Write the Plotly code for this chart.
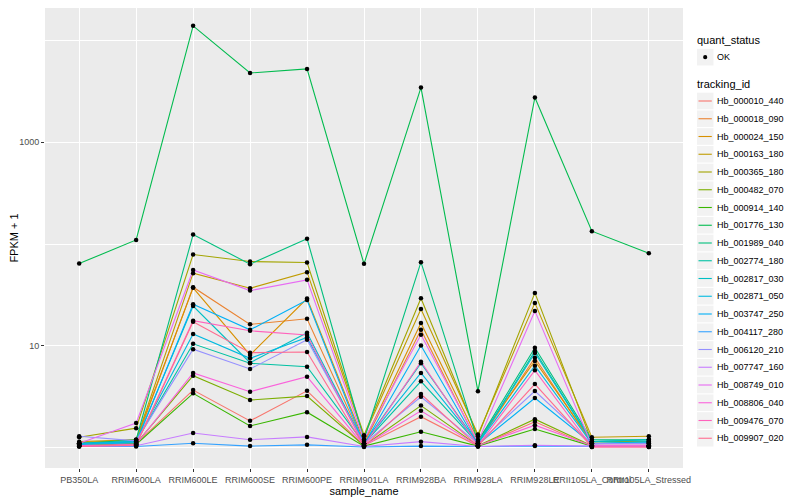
import plotly.graph_objects as go

# ---- categories ----
samples = ["PB350LA", "RRIM600LA", "RRIM600LE", "RRIM600SE", "RRIM600PE",
           "RRIM901LA", "RRIM928BA", "RRIM928LA", "RRIM928LE",
           "RRII105LA_Control", "RRII105LA_Stressed"]

tracking_ids = ["Hb_000010_440", "Hb_000018_090", "Hb_000024_150", "Hb_000163_180",
                "Hb_000365_180", "Hb_000482_070", "Hb_000914_140", "Hb_001776_130",
                "Hb_001989_040", "Hb_002774_180", "Hb_002817_030", "Hb_002871_050",
                "Hb_003747_250", "Hb_004117_280", "Hb_006120_210", "Hb_007747_160",
                "Hb_008749_010", "Hb_008806_040", "Hb_009476_070", "Hb_009907_020"]

colors = ["#F8766D", "#EA8331", "#D89000", "#C09B00", "#A3A500", "#7CAE00", "#39B600",
          "#00BB4E", "#00BF7D", "#00C1A3", "#00BFC4", "#00BAE0", "#00B0F6", "#35A2FF",
          "#9590FF", "#C77CFF", "#E76BF3", "#FA62DB", "#FF62BC", "#FF6C90"]

y_tick_values = [10, 1000]
y_tick_labels = ["10", "1000"]
y_minor_values = [1, 100, 10000]

# ---- FPKM values (one list per gene, in sample order) ----
hb_000010_440 = [0.08, 0.10, 2.69, 0.84, 2.63, 0.05, 1.02, 0.04, 0.80, 0.03, 0.03]
hb_000018_090 = [0.10, 0.15, 36.8, 15.3, 17.5, 0.10, 13.4, 0.10, 6.67, 0.10, 0.10]
hb_000024_150 = [0.12, 0.20, 36.2, 7.16, 28.2, 0.15, 15.8, 0.20, 6.12, 0.15, 0.15]
hb_000163_180 = [0.15, 0.20, 50.9, 35.9, 52.1, 0.30, 22.1, 0.35, 25.5, 0.27, 0.30]
hb_000365_180 = [0.27, 0.56, 78.0, 66.5, 65.0, 0.33, 28.4, 0.30, 32.2, 0.15, 0.15]
hb_000482_070 = [0.05, 0.10, 4.11, 1.95, 2.22, 0.05, 1.60, 0.05, 0.91, 0.05, 0.05]
hb_000914_140 = [0.05, 0.08, 2.43, 0.64, 1.24, 0.04, 0.44, 0.04, 0.53, 0.04, 0.04]
hb_001776_130 = [63.4, 109.0, 13900.0, 4790.0, 5250.0, 63.0, 3440.0, 2.6, 2750.0, 133.0, 80.5]
hb_001989_040 = [0.10, 0.20, 123.0, 62.6, 112.0, 0.20, 65.5, 0.15, 8.62, 0.20, 0.20]
hb_002774_180 = [0.10, 0.15, 9.50, 5.76, 5.25, 0.10, 3.50, 0.10, 7.93, 0.15, 0.20]
hb_002817_030 = [0.10, 0.15, 23.7, 5.85, 12.5, 0.10, 5.76, 0.10, 7.53, 0.15, 0.20]
hb_002871_050 = [0.10, 0.15, 12.1, 6.57, 11.1, 0.10, 4.43, 0.10, 5.40, 0.10, 0.15]
hb_003747_250 = [0.08, 0.12, 24.7, 13.4, 27.3, 0.08, 9.10, 0.08, 2.08, 0.10, 0.12]
hb_004117_280 = [0.03, 0.03, 0.11, 0.04, 0.07, 0.02, 0.04, 0.03, 0.04, 0.03, 0.03]
hb_006120_210 = [0.30, 0.17, 8.29, 4.94, 10.5, 0.10, 2.17, 0.10, 2.61, 0.10, 0.10]
hb_007747_160 = [0.04, 0.05, 0.40, 0.20, 0.28, 0.03, 0.15, 0.03, 0.06, 0.04, 0.04]
hb_008749_010 = [0.11, 0.75, 54.8, 34.0, 43.6, 0.20, 11.9, 0.15, 21.1, 0.06, 0.06]
hb_008806_040 = [0.05, 0.08, 4.43, 2.56, 3.99, 0.05, 1.31, 0.05, 0.67, 0.05, 0.05]
hb_009476_070 = [0.04, 0.08, 16.7, 13.1, 11.8, 0.05, 6.02, 0.05, 4.77, 0.02, 0.02]
hb_009907_020 = [0.03, 0.06, 16.3, 7.59, 7.73, 0.04, 2.37, 0.04, 3.23, 0.02, 0.02]

series = [hb_000010_440, hb_000018_090, hb_000024_150, hb_000163_180, hb_000365_180,
          hb_000482_070, hb_000914_140, hb_001776_130, hb_001989_040, hb_002774_180,
          hb_002817_030, hb_002871_050, hb_003747_250, hb_004117_280, hb_006120_210,
          hb_007747_160, hb_008749_010, hb_008806_040, hb_009476_070, hb_009907_020]

FONT = "Liberation Sans, Arial, Helvetica, sans-serif"

# ---- layout geometry (figure pixels; page has an 8px body margin) ----
FIG_W, FIG_H = 792, 492
M_L, M_R, M_T, M_B = 37, 117, 0, 32
PLOT_W = FIG_W - M_L - M_R
PLOT_H = FIG_H - M_T - M_B
PAGE_OFF = 8


def px_x(xpage):
    return (xpage - PAGE_OFF - M_L) / PLOT_W


def px_y(ypage):
    return (M_T + PLOT_H - (ypage - PAGE_OFF)) / PLOT_H


fig = go.Figure()

for tid, col, vals in zip(tracking_ids, colors, series):
    fig.add_trace(go.Scatter(
        x=samples, y=[v + 1 for v in vals], mode="lines", name=tid,
        line=dict(color=col, width=1.1), showlegend=False, hoverinfo="skip"))

# all points (quant_status = OK) on top
all_x, all_y = [], []
for vals in series:
    all_x += samples
    all_y += [v + 1 for v in vals]
fig.add_trace(go.Scatter(
    x=all_x, y=all_y, mode="markers", name="OK",
    marker=dict(color="black", size=4.5), showlegend=False))

# ---- legend (ggplot style) ----
shapes = []
annotations = []
KEY_L, KEY_R = 697, 713.5
TEXT_X = 715

annotations.append(dict(text="quant_status", x=px_x(695), y=px_y(40), xref="paper", yref="paper",
                        xanchor="left", yanchor="middle", showarrow=False,
                        font=dict(size=11, color="black", family=FONT)))
shapes.append(dict(type="rect", xref="paper", yref="paper", x0=px_x(KEY_L), x1=px_x(KEY_R),
                   y0=px_y(48.8), y1=px_y(65.5), fillcolor="#F2F2F2", line=dict(width=0), layer="above"))
shapes.append(dict(type="circle", xref="paper", yref="paper", x0=px_x(703.1), x1=px_x(707.3),
                   y0=px_y(55.1), y1=px_y(59.3), fillcolor="black", line=dict(width=0)))
annotations.append(dict(text="OK", x=px_x(TEXT_X), y=px_y(57.2), xref="paper", yref="paper",
                        xanchor="left", yanchor="middle", showarrow=False,
                        font=dict(size=9, color="black", family=FONT)))

annotations.append(dict(text="tracking_id", x=px_x(695), y=px_y(84.3), xref="paper", yref="paper",
                        xanchor="left", yanchor="middle", showarrow=False,
                        font=dict(size=11, color="black", family=FONT)))
FIRST_Y, STEP = 101.0, 17.75
for i, (tid, col) in enumerate(zip(tracking_ids, colors)):
    cy = FIRST_Y + i * STEP
    shapes.append(dict(type="rect", xref="paper", yref="paper", x0=px_x(KEY_L), x1=px_x(KEY_R),
                       y0=px_y(cy - 8.3), y1=px_y(cy + 8.3), fillcolor="#F2F2F2",
                       line=dict(width=0)))
    shapes.append(dict(type="line", xref="paper", yref="paper", x0=px_x(698.5), x1=px_x(711.8),
                       y0=px_y(cy), y1=px_y(cy), line=dict(color=col, width=1.1)))
    annotations.append(dict(text=tid, x=px_x(TEXT_X), y=px_y(cy), xref="paper", yref="paper",
                            xanchor="left", yanchor="middle", showarrow=False,
                            font=dict(size=9, color="black", family=FONT)))

top_log = -0.198 + PLOT_H / 101.85

fig.update_layout(
    template="none",
    width=FIG_W, height=FIG_H,
    margin=dict(l=M_L, r=M_R, t=M_T, b=M_B, autoexpand=False),
    paper_bgcolor="white",
    plot_bgcolor="#EBEBEB",
    font=dict(family=FONT, size=9, color="#4D4D4D"),
    showlegend=False,
    shapes=shapes,
    annotations=annotations,
    xaxis=dict(
        type="category", categoryorder="array", categoryarray=samples,
        range=[-0.6, 10.6], showgrid=True, gridcolor="white", gridwidth=1.1,
        zeroline=False, showline=False, ticks="outside", ticklen=3,
        tickcolor="#333333", tickwidth=1, tickangle=0,
        tickfont=dict(size=9, color="#4D4D4D"),
        title=dict(text="sample_name", font=dict(size=11, color="black"), standoff=1),
        automargin=False),
    yaxis=dict(
        type="log", range=[-0.198, top_log],
        tickvals=y_tick_values, ticktext=y_tick_labels,
        showgrid=True, gridcolor="white", gridwidth=1.1,
        minor=dict(tickvals=y_minor_values, showgrid=True, gridcolor="white",
                   gridwidth=0.55, ticks=""),
        zeroline=False, showline=False, ticks="outside", ticklen=3,
        tickcolor="#333333", tickwidth=1,
        tickfont=dict(size=9, color="#4D4D4D"),
        title=dict(text="FPKM + 1", font=dict(size=11, color="black"), standoff=3),
        automargin=False),
)

fig.write_html("out.html")
